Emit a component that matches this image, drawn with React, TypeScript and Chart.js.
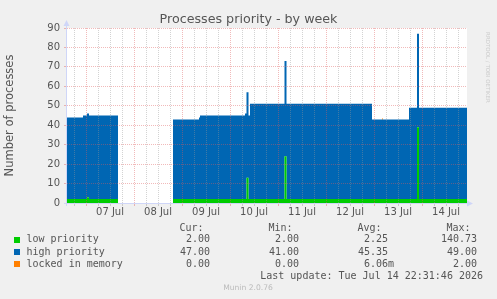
import React, { useEffect, useRef } from 'react';
import { Chart, registerables } from 'chart.js';

Chart.register(...registerables);

const W = 497;
const H = 299;

const TITLE = 'Processes priority - by week';
const Y_TITLE = 'Number of processes';
const DAY_LABELS = ['07 Jul', '08 Jul', '09 Jul', '10 Jul', '11 Jul', '12 Jul', '13 Jul', '14 Jul'];

// x values: hours since 07 Jul 00:00
const X_MIN = -9.5;
const X_MAX = 190.5;
const Y_MAX = 90;
const Y_STEP = 5;

const TIMES = [-9.5, -1.5, 0.5, 1.5, 16, 30, 43.5, 56.5, 57, 79.5, 80.25, 81.25, 82, 99.25, 100.25, 143, 148, 148.5, 161.5, 165.5, 166.5, 190.5];
const LOW = [2, 2, 3, 2, 2, null, 2, 2, 2, 2, 13, 2, 2, 24, 2, 2, 2, 2, 2, 39, 2, 2];
const HIGH = [42, 43, 43, 43, 43, null, 41, 42, 43, 44, 44, 43, 49, 49, 49, 41, 41, 41, 47, 48, 47, 47];
const LOCKED = [0, 0, 0, 0, 0, null, 0, 0, 0, 0, 0, 0, 0, 0, 0, 0, 0.5, 0, 0, 0, 0, 0];

const SERIES_NAMES = ['low priority', 'high priority', 'locked in memory'];
const SERIES_COLORS = ['#00CC00', '#0066B3', '#FF8000'];
const STAT_HEADERS = ['Cur:', 'Min:', 'Avg:', 'Max:'];
const CUR = ['2.00', '47.00', '0.00'];
const MIN = ['2.00', '41.00', '0.00'];
const AVG = ['2.25', '45.35', '6.06m'];
const MAX = ['140.73', '49.00', '2.00'];
const LAST_UPDATE = 'Last update: Tue Jul 14 22:31:46 2026';
const FOOTER = 'Munin 2.0.76';
const WATERMARK = 'RRDTOOL / TOBI OETIKER';

const TEXT = '#555555';
const AXIS = '#CFD6F8';
const GRID_MINOR = 'rgba(150,150,150,0.42)';
const GRID_MAJOR = 'rgba(222,90,90,0.42)';

const X_TICKS: number[] = [];
for (let d = -1; d <= DAY_LABELS.length; d++) {
  for (const o of [0, 6, 12, 18]) {
    const h = d * 24 + o;
    if (h > X_MIN && h < X_MAX) X_TICKS.push(h);
  }
}
const Y_TICKS: number[] = [];
for (let v = 0; v <= Y_MAX; v += Y_STEP) Y_TICKS.push(v);

const mod = (a: number, n: number) => ((a % n) + n) % n;

const overlay = {
  id: 'muninOverlay',
  beforeDraw(chart: any) {
    const { ctx, chartArea: a } = chart;
    ctx.save();
    ctx.fillStyle = '#F0F0F0';
    ctx.fillRect(0, 0, chart.width, chart.height);
    ctx.fillStyle = '#FFFFFF';
    ctx.fillRect(a.left, a.top, a.right - a.left, a.bottom - a.top);
    ctx.restore();
  },
  afterDraw(chart: any) {
    const { ctx, chartArea: a } = chart;
    ctx.save();
    // axes
    ctx.strokeStyle = AXIS;
    ctx.fillStyle = AXIS;
    ctx.lineWidth = 1;
    const ax = a.left - 0.5;
    const ay = a.bottom + 0.5;
    ctx.beginPath();
    ctx.moveTo(ax, a.bottom + 3);
    ctx.lineTo(ax, a.top - 3);
    ctx.moveTo(a.left - 3, ay);
    ctx.lineTo(a.right + 1, ay);
    ctx.stroke();
    ctx.beginPath();
    ctx.moveTo(ax, a.top - 8);
    ctx.lineTo(ax - 3, a.top - 2);
    ctx.lineTo(ax + 3, a.top - 2);
    ctx.closePath();
    ctx.fill();
    ctx.beginPath();
    ctx.moveTo(a.right + 6, ay);
    ctx.lineTo(a.right, ay - 3);
    ctx.lineTo(a.right, ay + 3);
    ctx.closePath();
    ctx.fill();

    // title
    ctx.fillStyle = TEXT;
    ctx.font = '12.7px "DejaVu Sans"';
    ctx.textAlign = 'center';
    ctx.textBaseline = 'middle';
    ctx.fillText(TITLE, 248.5, 19.5);

    // watermark
    ctx.save();
    ctx.translate(487.5, 67.5);
    ctx.rotate(Math.PI / 2);
    ctx.fillStyle = '#CDCDCD';
    ctx.font = '5.5px "DejaVu Sans"';
    ctx.fillText(WATERMARK, 0, 0);
    ctx.restore();

    // legend
    ctx.font = '10px "DejaVu Sans Mono"';
    ctx.fillStyle = TEXT;
    const colRight = [210, 299, 388, 477];
    ctx.textAlign = 'right';
    STAT_HEADERS.forEach((h, i) => ctx.fillText(h, colRight[i] - 6.5, 228.3));
    const cols = [CUR, MIN, AVG, MAX];
    SERIES_NAMES.forEach((name, r) => {
      const y = 239.8 + r * 12.2;
      ctx.fillStyle = SERIES_COLORS[r];
      ctx.fillRect(14, Math.round(y) - 3, 6, 6);
      ctx.fillStyle = TEXT;
      ctx.textAlign = 'left';
      ctx.fillText(name, 26.5, y);
      ctx.textAlign = 'right';
      cols.forEach((col, c) => {
        const s = col[r];
        const unit = /[a-zA-Z]$/.test(s);
        ctx.fillText(s, colRight[c] + (unit ? 6 : 0), y);
      });
    });
    ctx.textAlign = 'right';
    ctx.fillText(LAST_UPDATE, 483, 276.2);

    ctx.textAlign = 'center';
    ctx.fillStyle = '#BBBBBB';
    ctx.font = '7.6px "DejaVu Sans"';
    ctx.fillText(FOOTER, 248, 288);
    ctx.restore();
  },
};

function series(values: (number | null)[]) {
  return TIMES.map((t, i) => ({ x: t, y: values[i] }));
}

export default function App() {
  const ref = useRef<HTMLCanvasElement | null>(null);
  useEffect(() => {
    const canvas = ref.current;
    if (!canvas) return;
    const common = { borderWidth: 0, pointRadius: 0, stepped: true, spanGaps: false };
    const chart = new Chart(canvas, {
      type: 'line',
      data: {
        datasets: [
          { label: SERIES_NAMES[0], data: series(LOW), backgroundColor: SERIES_COLORS[0], borderColor: SERIES_COLORS[0], fill: 'origin', ...common },
          { label: SERIES_NAMES[1], data: series(HIGH), backgroundColor: SERIES_COLORS[1], borderColor: SERIES_COLORS[1], fill: '-1', ...common },
          { label: SERIES_NAMES[2], data: series(LOCKED), backgroundColor: SERIES_COLORS[2], borderColor: SERIES_COLORS[2], fill: '-1', ...common },
        ] as any,
      },
      options: {
        animation: false,
        responsive: false,
        devicePixelRatio: 1,
        events: [],
        layout: { padding: { left: 0, top: 28, right: 30, bottom: 76 } },
        plugins: { legend: { display: false }, title: { display: false }, tooltip: { enabled: false } },
        scales: {
          x: {
            type: 'linear',
            min: X_MIN,
            max: X_MAX,
            afterBuildTicks: (s: any) => { s.ticks = X_TICKS.map((v) => ({ value: v })); },
            afterFit: (s: any) => { s.height = 20; },
            ticks: {
              autoSkip: false,
              maxRotation: 0,
              minRotation: 0,
              padding: 0,
              color: TEXT,
              font: { family: 'DejaVu Sans', size: 10 },
              callback: (v: any) => {
                const h = Number(v);
                if (mod(h, 24) === 12) return DAY_LABELS[(h - 12) / 24] ?? '';
                return '';
              },
            },
            grid: {
              z: 1,
              tickLength: 3,
              lineWidth: 1,
              color: (c: any) => (c.tick && mod(c.tick.value, 24) === 0 ? GRID_MAJOR : GRID_MINOR),
            },
            border: { display: false, dash: [1, 1] },
          },
          y: {
            type: 'linear',
            stacked: true,
            min: 0,
            max: Y_MAX,
            afterBuildTicks: (s: any) => { s.ticks = Y_TICKS.map((v) => ({ value: v })); },
            afterFit: (s: any) => { s.width = 67; },
            ticks: {
              padding: 4,
              color: TEXT,
              font: { family: 'DejaVu Sans', size: 10 },
              callback: (v: any) => (Number(v) % 10 === 0 ? String(v) : ''),
            },
            grid: {
              z: 1,
              tickLength: 3,
              lineWidth: 1,
              color: (c: any) => (c.tick && c.tick.value % 10 === 0 ? GRID_MAJOR : GRID_MINOR),
            },
            border: { display: false, dash: [1, 1] },
            title: {
              display: true,
              text: Y_TITLE,
              color: TEXT,
              font: { family: 'DejaVu Sans', size: 11.5 },
              padding: { top: 3.5, bottom: 0 },
            },
          },
        },
      } as any,
      plugins: [overlay],
    });
    return () => chart.destroy();
  }, []);
  return (
    <div style={{ position: 'absolute', left: 0, top: 0, width: W, height: H }}>
      <canvas ref={ref} width={W} height={H} style={{ display: 'block', width: W, height: H }} />
    </div>
  );
}
